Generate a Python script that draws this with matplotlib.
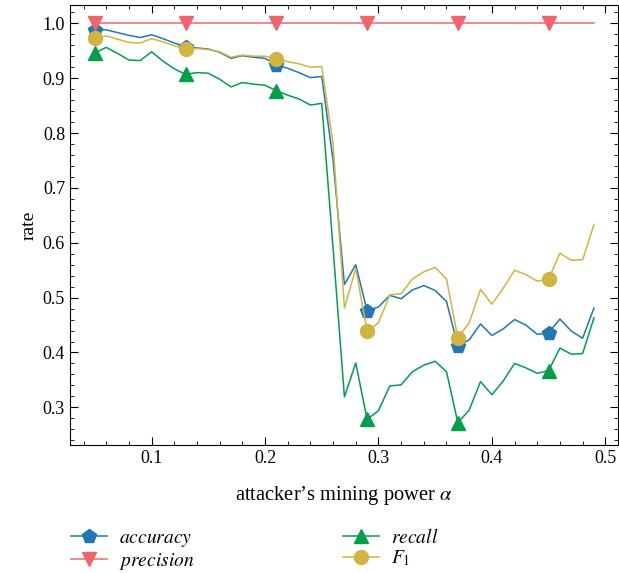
import numpy as np
import matplotlib
matplotlib.use("Agg")
from matplotlib import pyplot as plt
from matplotlib.ticker import MultipleLocator

plt.rcParams['font.family'] = ['Liberation Serif', 'DejaVu Serif']
plt.rcParams['mathtext.fontset'] = 'stix'

# attacker's mining power, 0.05 .. 0.49
alpha = [0.05, 0.06, 0.07, 0.08, 0.09, 0.10, 0.11, 0.12, 0.13, 0.14,
         0.15, 0.16, 0.17, 0.18, 0.19, 0.20, 0.21, 0.22, 0.23, 0.24,
         0.25, 0.26, 0.27, 0.28, 0.29, 0.30, 0.31, 0.32, 0.33, 0.34,
         0.35, 0.36, 0.37, 0.38, 0.39, 0.40, 0.41, 0.42, 0.43, 0.44,
         0.45, 0.46, 0.47, 0.48, 0.49]

accuracy = [0.988, 0.988, 0.983, 0.978, 0.974, 0.979, 0.972, 0.964, 0.957, 0.955,
            0.953, 0.947, 0.936, 0.941, 0.938, 0.936, 0.924, 0.918, 0.910, 0.901,
            0.903, 0.750, 0.524, 0.560, 0.476, 0.483, 0.504, 0.498, 0.514, 0.522,
            0.513, 0.493, 0.412, 0.423, 0.452, 0.431, 0.443, 0.460, 0.450, 0.433,
            0.436, 0.461, 0.439, 0.426, 0.481]

precision = [1.0] * 45

recall = [0.946, 0.956, 0.945, 0.933, 0.932, 0.948, 0.931, 0.917, 0.907, 0.910,
          0.909, 0.898, 0.884, 0.892, 0.889, 0.887, 0.877, 0.869, 0.862, 0.851,
          0.854, 0.590, 0.319, 0.381, 0.278, 0.294, 0.339, 0.341, 0.365, 0.377,
          0.384, 0.365, 0.272, 0.295, 0.347, 0.323, 0.348, 0.380, 0.372, 0.362,
          0.367, 0.408, 0.397, 0.398, 0.463]

f1 = [0.973, 0.977, 0.971, 0.965, 0.964, 0.972, 0.966, 0.959, 0.953, 0.954,
      0.952, 0.948, 0.938, 0.942, 0.940, 0.940, 0.935, 0.930, 0.926, 0.920,
      0.921, 0.780, 0.481, 0.553, 0.439, 0.454, 0.505, 0.507, 0.534, 0.547,
      0.555, 0.534, 0.427, 0.454, 0.515, 0.488, 0.517, 0.550, 0.542, 0.530,
      0.534, 0.581, 0.568, 0.569, 0.633]

fig = plt.figure(figsize=(6.19, 5.73), dpi=100)
ax = fig.add_axes([0.113, 0.223, 0.885, 0.768])

ax.plot(alpha, accuracy, color='#1f78b4', lw=1.1, marker='p', ms=10,
        markevery=8, label='$\\it{accuracy}$', zorder=3)
ax.plot(alpha, precision, color='#f0646e', lw=1.1, marker='v', ms=10,
        markevery=8, label='$\\it{precision}$', zorder=6)
ax.plot(alpha, recall, color='#00a04a', lw=1.1, marker='^', ms=10,
        markevery=8, label='$\\it{recall}$', zorder=4)
ax.plot(alpha, f1, color='#d2b440', lw=1.1, marker='o', ms=10,
        markevery=8, label='$F_1$', zorder=5)

ax.set_xlim(0.028, 0.511)
ax.set_ylim(0.231, 1.033)
ax.xaxis.set_major_locator(MultipleLocator(0.1))
ax.xaxis.set_minor_locator(MultipleLocator(0.02))
ax.yaxis.set_major_locator(MultipleLocator(0.1))
ax.yaxis.set_minor_locator(MultipleLocator(0.02))
ax.tick_params(which='both', direction='in', top=True, right=True, labelsize=13)
ax.tick_params(which='major', length=6)
ax.tick_params(which='minor', length=3)

ax.set_xlabel('attacker’s mining power $\\alpha$', fontsize=14.8, labelpad=12)
ax.set_ylabel('rate', fontsize=14)

ax.legend(loc='upper left', bbox_to_anchor=(-0.03, -0.148), ncol=2,
          frameon=False, fontsize=14, handlelength=1.85, columnspacing=7.65,
          labelspacing=0.1, handletextpad=0.6)

fig.savefig('out.png', dpi=100)
